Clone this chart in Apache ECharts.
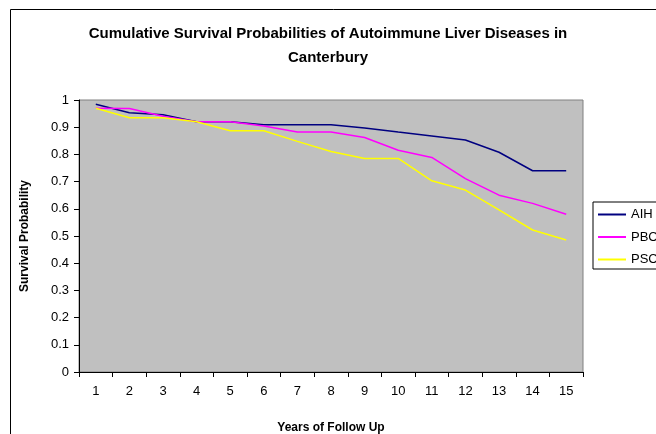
<!DOCTYPE html>
<html>
<head>
<meta charset="utf-8">
<script src="https://cdn.jsdelivr.net/npm/echarts@6/dist/echarts.min.js"></script>
<style>
  html, body { margin: 0; padding: 0; background: #fff; }
  #chart { width: 656px; height: 434px; }
</style>
</head>
<body>
<div id="chart"></div>
<script>
const years = ['1', '2', '3', '4', '5', '6', '7', '8', '9', '10', '11', '12', '13', '14', '15']
const aih = [0.984, 0.953, 0.946, 0.92, 0.92, 0.909, 0.909, 0.909, 0.897, 0.882, 0.868, 0.853, 0.808, 0.74, 0.74]
const pbc = [0.97, 0.969, 0.94, 0.92, 0.92, 0.904, 0.882, 0.882, 0.862, 0.815, 0.789, 0.711, 0.65, 0.62, 0.58]
const psc = [0.97, 0.935, 0.935, 0.92, 0.887, 0.887, 0.848, 0.811, 0.785, 0.785, 0.703, 0.669, 0.596, 0.522, 0.485]

const font = 'Arial, "Liberation Sans", sans-serif'
const dom = document.querySelector('#chart')

function paintSurvivalChart(dom) {
    let myChart = echarts.init(dom, null, { renderer: 'canvas' })
    let option = {
        animation: false,
        backgroundColor: '#fff',
        textStyle: { fontFamily: font },
        title: {
            text: 'Cumulative Survival Probabilities of Autoimmune Liver Diseases in\nCanterbury',
            left: 'center',
            top: 17,
            textStyle: {
                fontFamily: font,
                fontSize: 15,
                fontWeight: 'bold',
                color: '#000',
                lineHeight: 24,
            },
        },
        graphic: [
            {
                type: 'rect',
                shape: { x: 10.5, y: 9.5, width: 700, height: 500 },
                style: { fill: 'none', stroke: '#000', lineWidth: 1 },
                z: -1,
            },
        ],
        legend: {
            orient: 'vertical',
            left: 593,
            top: 202,
            padding: [6, 12, 3, 5],
            itemGap: 9.5,
            itemWidth: 28,
            itemHeight: 2,
            icon: 'rect',
            borderColor: '#000',
            borderWidth: 1,
            backgroundColor: '#fff',
            textStyle: { fontFamily: font, fontSize: 13, color: '#000' },
            data: ['AIH', 'PBC', 'PSC'],
        },
        grid: {
            left: 79,
            top: 100,
            width: 504,
            height: 272,
            outerBoundsMode: 'none',
            containLabel: false,
            show: true,
            backgroundColor: '#C0C0C0',
            borderColor: '#808080',
            borderWidth: 1,
        },
        xAxis: {
            type: 'category',
            data: years,
            boundaryGap: true,
            name: 'Years of Follow Up',
            nameLocation: 'middle',
            nameGap: 50,
            nameTextStyle: { fontFamily: font, fontSize: 12, fontWeight: 'bold', color: '#000' },
            axisLine: { lineStyle: { color: '#000', width: 1 } },
            axisTick: { show: true, length: 5, alignWithLabel: false, lineStyle: { color: '#000' } },
            axisLabel: { fontFamily: font, fontSize: 13, color: '#000', margin: 13, interval: 0 },
            splitLine: { show: false },
        },
        yAxis: {
            type: 'value',
            min: 0,
            max: 1,
            interval: 0.1,
            name: 'Survival Probability',
            nameLocation: 'middle',
            nameGap: 48,
            nameTextStyle: { fontFamily: font, fontSize: 12, fontWeight: 'bold', color: '#000' },
            axisLine: { show: true, lineStyle: { color: '#000', width: 1 } },
            axisTick: { show: true, length: 5, lineStyle: { color: '#000' } },
            axisLabel: { fontFamily: font, fontSize: 13, color: '#000', margin: 10 },
            splitLine: { show: false },
        },
        series: [
            { name: 'AIH', type: 'line', data: aih, showSymbol: false, symbol: 'none', color: '#000080', lineStyle: { width: 1.5, color: '#000080' } },
            { name: 'PBC', type: 'line', data: pbc, showSymbol: false, symbol: 'none', color: '#FF00FF', lineStyle: { width: 1.5, color: '#FF00FF' } },
            { name: 'PSC', type: 'line', data: psc, showSymbol: false, symbol: 'none', color: '#FFFF00', lineStyle: { width: 1.5, color: '#FFFF00' } },
        ],
    }
    myChart.setOption(option)
}

paintSurvivalChart(dom)
</script>
</body>
</html>
